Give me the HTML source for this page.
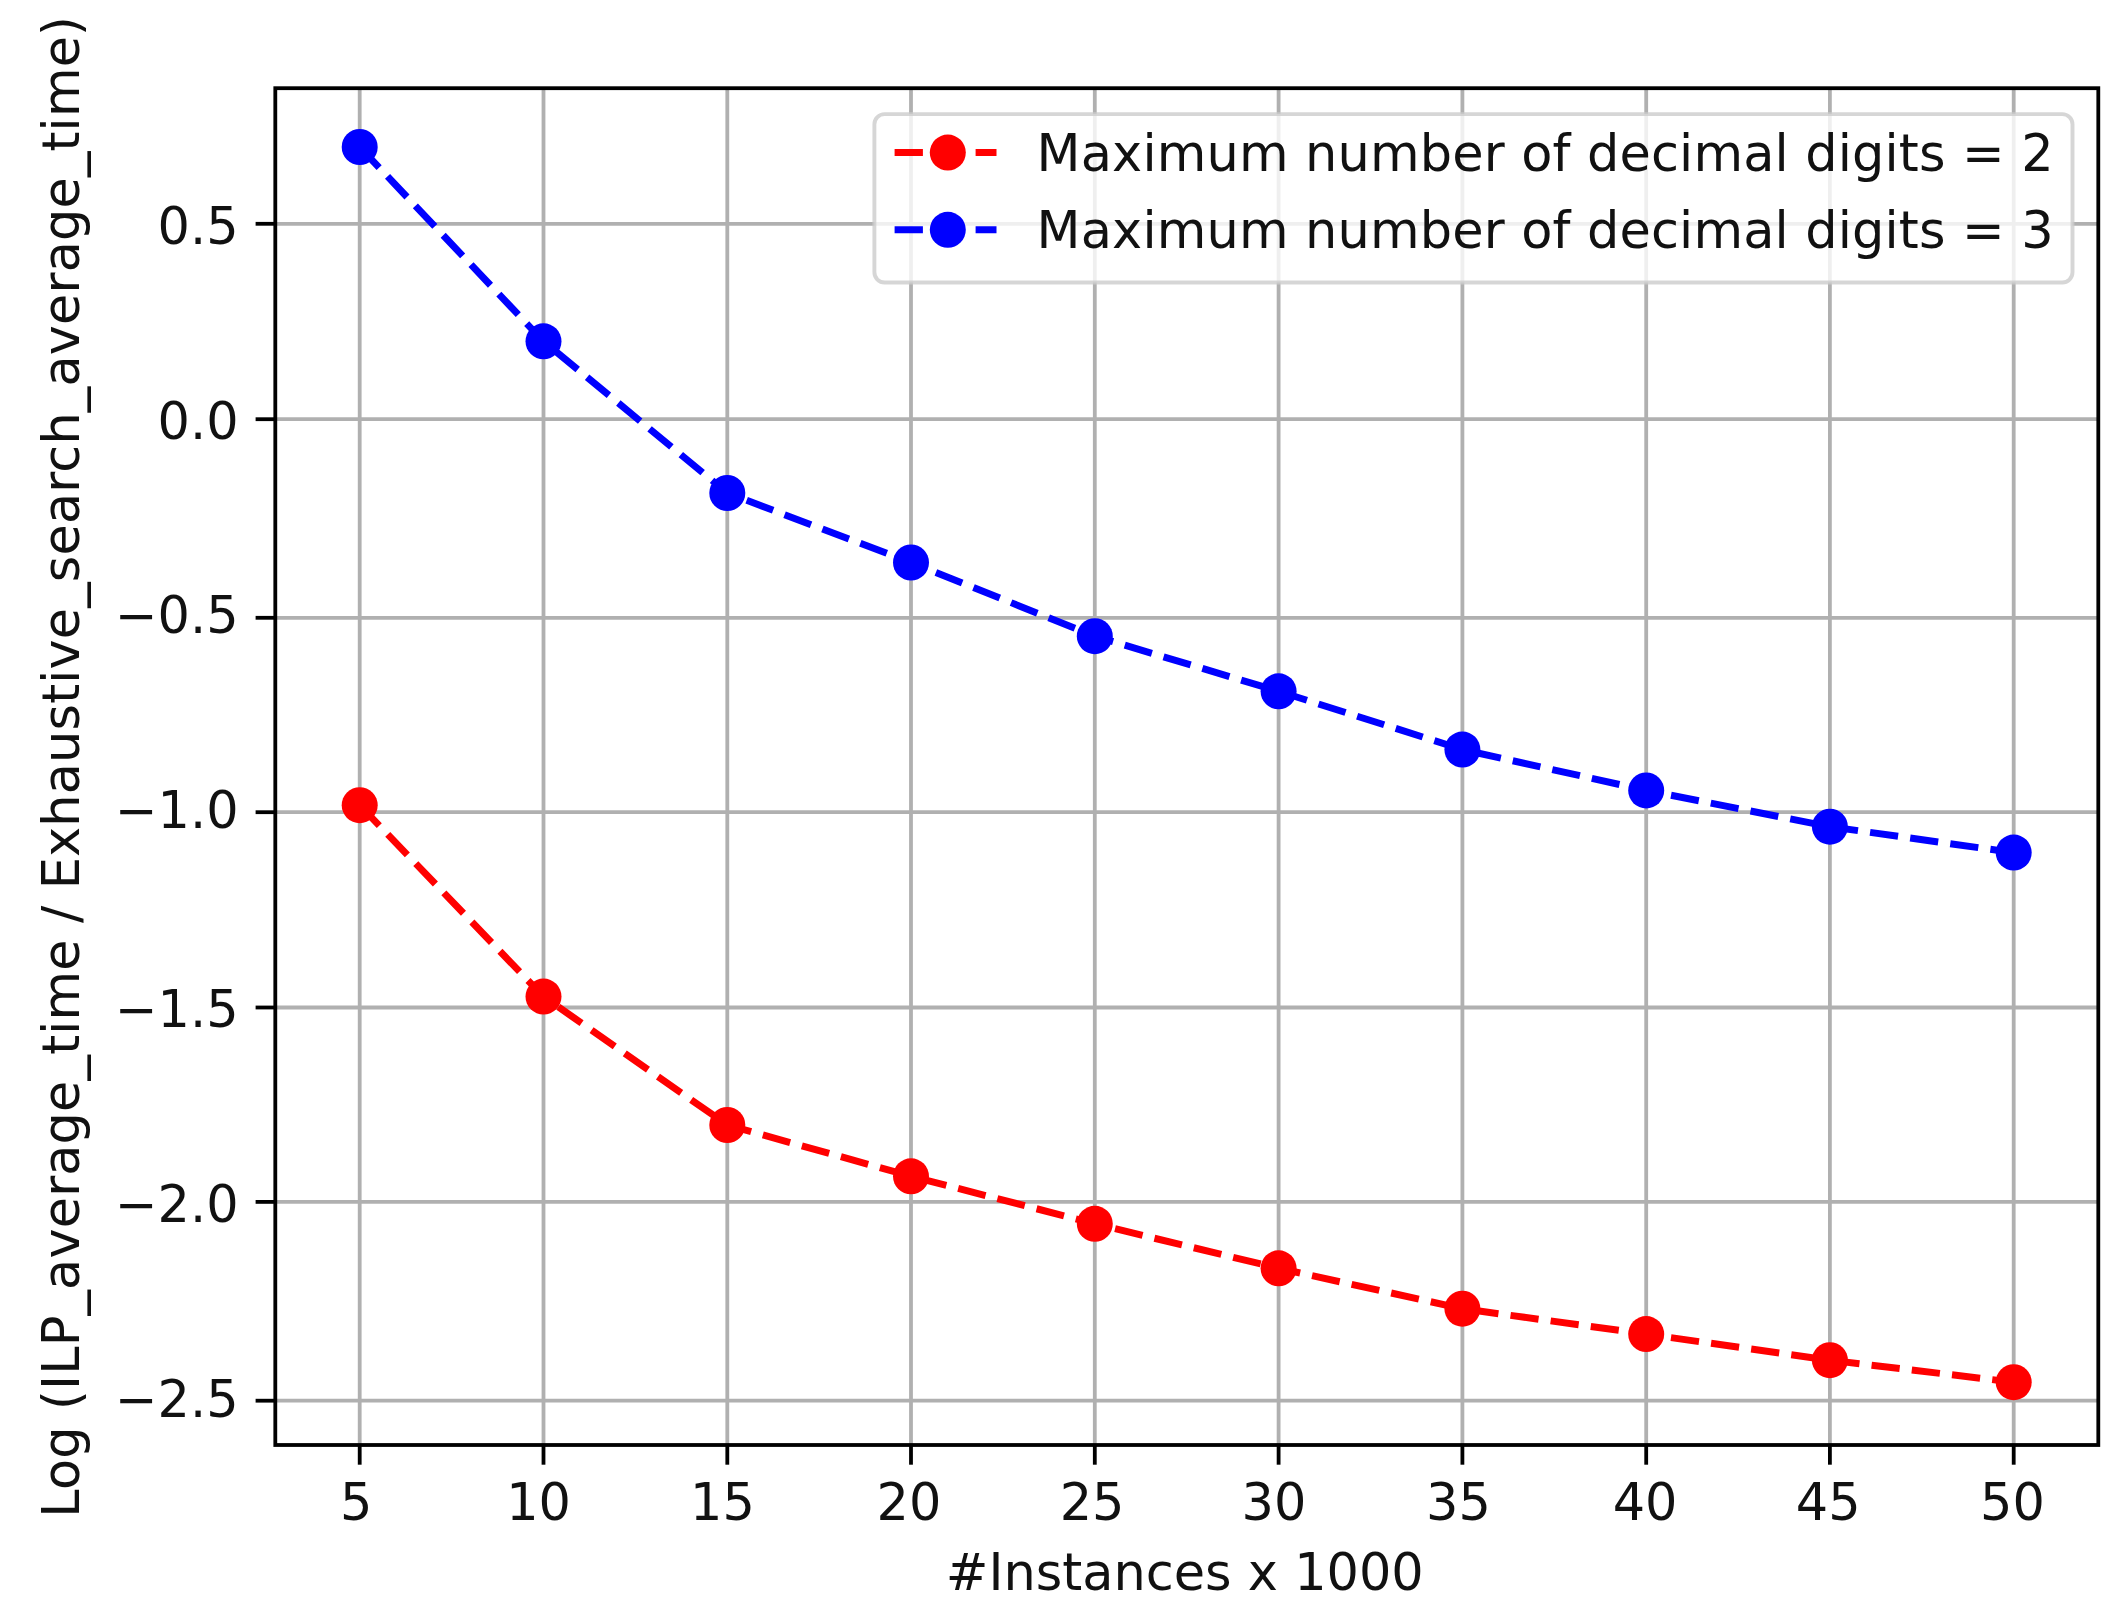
<!DOCTYPE html>
<html lang="en"><head><meta charset="utf-8"><title>Log time ratio chart</title>
<style>html,body{margin:0;padding:0;background:#fff;}body{width:2128px;height:1615px;overflow:hidden;}svg{display:block;filter:blur(0.7px);}text{font-family:"DejaVu Sans","Liberation Sans",sans-serif;font-size:50.93px;fill:#111;}</style></head><body>
<svg width="2128" height="1615" viewBox="0 0 2128 1615">
<rect x="0" y="0" width="2128" height="1615" fill="#fff"/>
<g stroke="#b0b0b0" stroke-width="3.80" fill="none">
<line x1="359.7" y1="88.2" x2="359.7" y2="1445.0"/>
<line x1="543.5" y1="88.2" x2="543.5" y2="1445.0"/>
<line x1="727.3" y1="88.2" x2="727.3" y2="1445.0"/>
<line x1="911.0" y1="88.2" x2="911.0" y2="1445.0"/>
<line x1="1094.8" y1="88.2" x2="1094.8" y2="1445.0"/>
<line x1="1278.6" y1="88.2" x2="1278.6" y2="1445.0"/>
<line x1="1462.4" y1="88.2" x2="1462.4" y2="1445.0"/>
<line x1="1646.2" y1="88.2" x2="1646.2" y2="1445.0"/>
<line x1="1829.9" y1="88.2" x2="1829.9" y2="1445.0"/>
<line x1="2013.7" y1="88.2" x2="2013.7" y2="1445.0"/>
<line x1="275.3" y1="223.8" x2="2098.3" y2="223.8"/>
<line x1="275.3" y1="419.2" x2="2098.3" y2="419.2"/>
<line x1="275.3" y1="617.8" x2="2098.3" y2="617.8"/>
<line x1="275.3" y1="812.2" x2="2098.3" y2="812.2"/>
<line x1="275.3" y1="1007.5" x2="2098.3" y2="1007.5"/>
<line x1="275.3" y1="1201.9" x2="2098.3" y2="1201.9"/>
<line x1="275.3" y1="1400.7" x2="2098.3" y2="1400.7"/>
</g>
<polyline points="359.7,805.2 543.5,996.6 727.3,1125.0 911.0,1176.3 1094.8,1223.8 1278.6,1268.3 1462.4,1308.7 1646.2,1334.1 1829.9,1360.2 2013.7,1382.2" fill="none" stroke="#ff0000" stroke-width="7.00" stroke-dasharray="28.3 12.2"/>
<g fill="#ff0000">
<circle cx="359.7" cy="805.2" r="18.0"/>
<circle cx="543.5" cy="996.6" r="18.0"/>
<circle cx="727.3" cy="1125.0" r="18.0"/>
<circle cx="911.0" cy="1176.3" r="18.0"/>
<circle cx="1094.8" cy="1223.8" r="18.0"/>
<circle cx="1278.6" cy="1268.3" r="18.0"/>
<circle cx="1462.4" cy="1308.7" r="18.0"/>
<circle cx="1646.2" cy="1334.1" r="18.0"/>
<circle cx="1829.9" cy="1360.2" r="18.0"/>
<circle cx="2013.7" cy="1382.2" r="18.0"/>
</g>
<polyline points="359.7,147.0 543.5,341.3 727.3,493.0 911.0,562.5 1094.8,636.2 1278.6,691.3 1462.4,749.6 1646.2,790.4 1829.9,826.7 2013.7,852.6" fill="none" stroke="#0000ff" stroke-width="7.00" stroke-dasharray="28.3 12.2"/>
<g fill="#0000ff">
<circle cx="359.7" cy="147.0" r="18.0"/>
<circle cx="543.5" cy="341.3" r="18.0"/>
<circle cx="727.3" cy="493.0" r="18.0"/>
<circle cx="911.0" cy="562.5" r="18.0"/>
<circle cx="1094.8" cy="636.2" r="18.0"/>
<circle cx="1278.6" cy="691.3" r="18.0"/>
<circle cx="1462.4" cy="749.6" r="18.0"/>
<circle cx="1646.2" cy="790.4" r="18.0"/>
<circle cx="1829.9" cy="826.7" r="18.0"/>
<circle cx="2013.7" cy="852.6" r="18.0"/>
</g>
<g stroke="#000" stroke-width="3.80">
<line x1="359.7" y1="1445.0" x2="359.7" y2="1464.7"/>
<line x1="543.5" y1="1445.0" x2="543.5" y2="1464.7"/>
<line x1="727.3" y1="1445.0" x2="727.3" y2="1464.7"/>
<line x1="911.0" y1="1445.0" x2="911.0" y2="1464.7"/>
<line x1="1094.8" y1="1445.0" x2="1094.8" y2="1464.7"/>
<line x1="1278.6" y1="1445.0" x2="1278.6" y2="1464.7"/>
<line x1="1462.4" y1="1445.0" x2="1462.4" y2="1464.7"/>
<line x1="1646.2" y1="1445.0" x2="1646.2" y2="1464.7"/>
<line x1="1829.9" y1="1445.0" x2="1829.9" y2="1464.7"/>
<line x1="2013.7" y1="1445.0" x2="2013.7" y2="1464.7"/>
<line x1="255.6" y1="223.8" x2="275.3" y2="223.8"/>
<line x1="255.6" y1="419.2" x2="275.3" y2="419.2"/>
<line x1="255.6" y1="617.8" x2="275.3" y2="617.8"/>
<line x1="255.6" y1="812.2" x2="275.3" y2="812.2"/>
<line x1="255.6" y1="1007.5" x2="275.3" y2="1007.5"/>
<line x1="255.6" y1="1201.9" x2="275.3" y2="1201.9"/>
<line x1="255.6" y1="1400.7" x2="275.3" y2="1400.7"/>
</g>
<rect x="275.3" y="88.2" width="1823.0" height="1356.8" fill="none" stroke="#000" stroke-width="3.80"/>
<text x="356.3" y="1519.8" text-anchor="middle">5</text>
<text x="538.6" y="1519.8" text-anchor="middle">10</text>
<text x="722.5" y="1519.8" text-anchor="middle">15</text>
<text x="908.9" y="1519.8" text-anchor="middle">20</text>
<text x="1092.1" y="1519.8" text-anchor="middle">25</text>
<text x="1273.9" y="1519.8" text-anchor="middle">30</text>
<text x="1458.4" y="1519.8" text-anchor="middle">35</text>
<text x="1645.1" y="1519.8" text-anchor="middle">40</text>
<text x="1828.2" y="1519.8" text-anchor="middle">45</text>
<text x="2012.4" y="1519.8" text-anchor="middle">50</text>
<text x="238.6" y="244.0" text-anchor="end">0.5</text>
<text x="238.6" y="439.0" text-anchor="end">0.0</text>
<text x="238.6" y="633.3" text-anchor="end">−0.5</text>
<text x="238.6" y="828.3" text-anchor="end">−1.0</text>
<text x="238.6" y="1027.2" text-anchor="end">−1.5</text>
<text x="238.6" y="1222.2" text-anchor="end">−2.0</text>
<text x="238.6" y="1416.6" text-anchor="end">−2.5</text>
<text x="1184.8" y="1589.6" text-anchor="middle">#Instances x 1000</text>
<text transform="translate(78.6,766.8) rotate(-90)" text-anchor="middle" letter-spacing="0.14">Log (ILP_average_time / Exhaustive_search_average_time)</text>
<rect x="874.4" y="114.1" width="1198.1" height="168.4" rx="10.2" ry="10.2" fill="#fff" fill-opacity="0.8" stroke="#ccc" stroke-opacity="0.8" stroke-width="3.9"/>
<line x1="894.6" y1="152.6" x2="996.5" y2="152.6" stroke="#ff0000" stroke-width="7.00" stroke-dasharray="28.3 12.2"/>
<circle cx="947.8" cy="152.6" r="18.0" fill="#ff0000"/>
<text x="1036.6" y="170.8" letter-spacing="0.17">Maximum number of decimal digits = 2</text>
<line x1="894.6" y1="229.8" x2="996.5" y2="229.8" stroke="#0000ff" stroke-width="7.00" stroke-dasharray="28.3 12.2"/>
<circle cx="947.8" cy="229.8" r="18.0" fill="#0000ff"/>
<text x="1036.6" y="248.1" letter-spacing="0.17">Maximum number of decimal digits = 3</text>
</svg></body></html>
